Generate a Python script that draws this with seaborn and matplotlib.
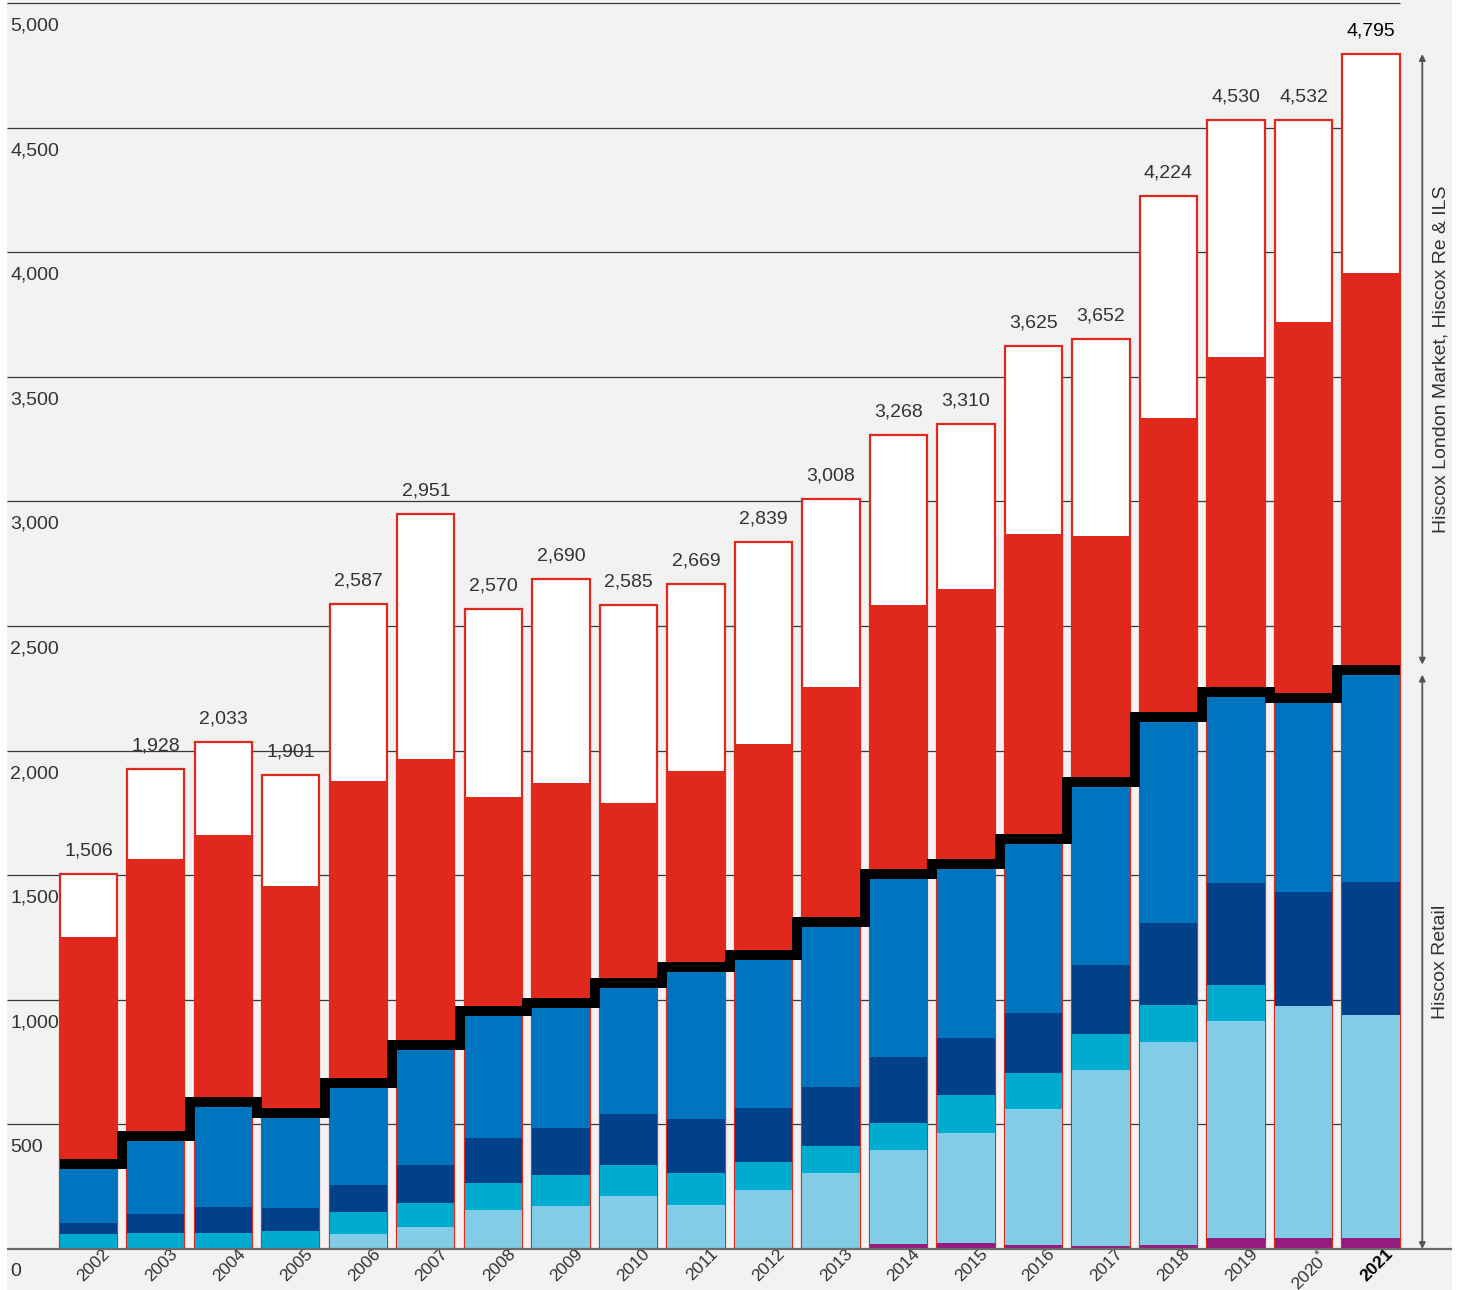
import numpy as np
import pandas as pd
import matplotlib
matplotlib.use("Agg")
import matplotlib.pyplot as plt
from matplotlib.patches import Rectangle
import seaborn as sns

# Gross written premiums by year (£m)
years = ["2002", "2003", "2004", "2005", "2006", "2007", "2008", "2009", "2010", "2011",
         "2012", "2013", "2014", "2015", "2016", "2017", "2018", "2019", "2020", "2021"]
year_labels = ["2002", "2003", "2004", "2005", "2006", "2007", "2008", "2009", "2010", "2011",
               "2012", "2013", "2014", "2015", "2016", "2017", "2018", "2019", "2020$^{*}$", "2021"]

# Hiscox Retail segments (bottom to top)
retail_purple = [0, 0, 0, 0, 0, 0, 0, 0, 0, 0, 0, 0, 20, 24, 16, 12, 16, 44, 44, 44]
retail_light = [0, 0, 0, 0, 60, 88, 157, 173, 213, 177, 237, 305, 377, 442, 546, 706, 815, 871, 931, 897]
retail_cyan = [60, 64, 64, 72, 88, 97, 108, 124, 124, 128, 112, 108, 109, 152, 144, 145, 148, 144, 0, 0]
retail_navy = [44, 76, 105, 93, 109, 152, 180, 189, 205, 217, 217, 237, 264, 229, 241, 277, 329, 410, 458, 532]
retail_blue = [216, 293, 402, 362, 388, 460, 491, 483, 507, 588, 594, 644, 714, 677, 678, 714, 807, 746, 758, 832]

# Hiscox London Market
london_market = [932, 1132, 1090, 930, 1233, 1169, 878, 901, 741, 808, 867, 961, 1100, 1125, 1244, 1007, 1220, 1365, 1529, 1610]

# Group totals (the Hiscox Re & ILS cap fills the remainder)
totals = [1506, 1928, 2033, 1901, 2587, 2951, 2570, 2690, 2585, 2669,
          2839, 3008, 3268, 3310, 3625, 3652, 4224, 4530, 4532, 4795]

y_ticks = [0, 500, 1000, 1500, 2000, 2500, 3000, 3500, 4000, 4500, 5000]

C_PURPLE = "#951B81"
C_LIGHT = "#82CCE5"
C_CYAN = "#00ABD0"
C_NAVY = "#00418A"
C_BLUE = "#0075BF"
C_RED = "#E0281D"
C_BG = "#F2F2F2"
C_TEXT = "#333333"

plt.rcParams["font.family"] = ["Liberation Sans", "DejaVu Sans"]
plt.rcParams["mathtext.fontset"] = "custom"
plt.rcParams["mathtext.rm"] = "Liberation Sans"

df = pd.DataFrame({
    "year": years,
    "purple": retail_purple,
    "light": retail_light,
    "cyan": retail_cyan,
    "navy": retail_navy,
    "blue": retail_blue,
    "lm": london_market,
    "total": totals,
})
df["c_purple"] = df["purple"]
df["c_light"] = df["c_purple"] + df["light"]
df["c_cyan"] = df["c_light"] + df["cyan"]
df["c_navy"] = df["c_cyan"] + df["navy"]
df["c_retail"] = df["c_navy"] + df["blue"]
df["c_lm"] = df["c_retail"] + df["lm"]

W, H, DPI = 1462, 1290, 100
fig = plt.figure(figsize=(W / DPI, H / DPI), dpi=DPI, facecolor="white")
# grey panel behind plot and labels
fig.patches.append(Rectangle((7 / W, 0), (1452 - 7) / W, 1, transform=fig.transFigure,
                             facecolor=C_BG, edgecolor="none", zorder=-10))

ax = fig.add_axes([7 / W, 41 / H, (1452 - 7) / W, (1249 - 3) / H])
ax.set_facecolor("none")

bw = 0.845
n = len(years)
xmin, xmax = -1.207, 20.2

# horizontal grid lines (stop at the last bar)
for v in y_ticks[1:]:
    ax.hlines(v, xmin, n - 1 + bw / 2, color="#3a3a3a", lw=0.9, zorder=0.5, clip_on=False)
ax.hlines(0, xmin, xmax, color="#6a6a6a", lw=1.6, zorder=4, clip_on=False)

# stacked bars drawn as overlapping cumulative layers
layers = [
    ("total", "white", C_RED, 1.6),
    ("c_lm", C_RED, "none", 0),
    ("c_retail", C_BLUE, "none", 0),
    ("c_navy", C_NAVY, "none", 0),
    ("c_cyan", C_CYAN, "none", 0),
    ("c_light", C_LIGHT, "none", 0),
    ("c_purple", C_PURPLE, "none", 0),
]
for col, fc, ec, lw in layers:
    sns.barplot(data=df, x="year", y=col, order=years, color=fc, saturation=1,
                width=bw, errorbar=None, edgecolor=ec, linewidth=lw, ax=ax, zorder=2)

# black step separating Retail from London Market / Re & ILS
sep_units = 40
step_y = list(df["c_retail"] + sep_units / 2)
xs = [-bw / 2] + list(range(n)) + [n - 1 + bw / 2]
ys = [step_y[0]] + step_y + [step_y[-1]]
px_per_unit = (1249 - 3) / 5000
ax.plot(xs, ys, drawstyle="steps-mid", color="black",
        lw=sep_units * px_per_unit * 72 / DPI, solid_joinstyle="miter",
        solid_capstyle="butt", zorder=3)

ax.set_xlim(xmin, xmax)
ax.set_ylim(0, 5000)
ax.set_xticks([])
ax.set_yticks([])
ax.set_xlabel("")
ax.set_ylabel("")
for s in ax.spines.values():
    s.set_visible(False)

# y-axis value labels sit just under each grid line
for v in y_ticks:
    ax.annotate(f"{v:,}", xy=(0, v), xycoords=("axes fraction", "data"),
                xytext=(2.5, -16.5), textcoords="offset points",
                ha="left", va="center", fontsize=14, color=C_TEXT, annotation_clip=False)

# totals above bars
for i, t in enumerate(totals):
    last = i == n - 1
    ax.annotate(f"{t:,}", xy=(i, t), xytext=(0, 16.5), textcoords="offset points",
                ha="center", va="center", fontsize=14,
                color="black" if last else C_TEXT, annotation_clip=False)

# rotated year labels
for i, lab in enumerate(year_labels):
    last = i == n - 1
    ax.annotate(lab, xy=(i, 0), xytext=(10, 2.0), textcoords="offset points",
                ha="right", va="top", rotation=45, rotation_mode="anchor",
                fontsize=12.5, color="black" if last else C_TEXT,
                fontweight="bold" if last else "normal", annotation_clip=False)

# range markers on the right
x_arrow = 19.76
top_total = totals[-1]
boundary_hi = float(df["c_retail"].iloc[-1] + sep_units)
boundary_lo = float(df["c_retail"].iloc[-1])
arrow_kw = dict(arrowstyle="<|-|>", color="#555555", lw=1.3, mutation_scale=9,
                shrinkA=0, shrinkB=0)
ax.annotate("", xy=(x_arrow, top_total), xytext=(x_arrow, boundary_hi),
            arrowprops=arrow_kw, annotation_clip=False)
ax.annotate("", xy=(x_arrow, boundary_lo), xytext=(x_arrow, 0),
            arrowprops=arrow_kw, annotation_clip=False)
ax.text(x_arrow + 0.27, (top_total + boundary_hi) / 2, "Hiscox London Market, Hiscox Re & ILS",
        rotation=90, ha="center", va="center", fontsize=14, color=C_TEXT)
ax.text(x_arrow + 0.27, boundary_lo / 2, "Hiscox Retail",
        rotation=90, ha="center", va="center", fontsize=14, color=C_TEXT)

fig.savefig("out.png", dpi=DPI, facecolor=fig.get_facecolor())
